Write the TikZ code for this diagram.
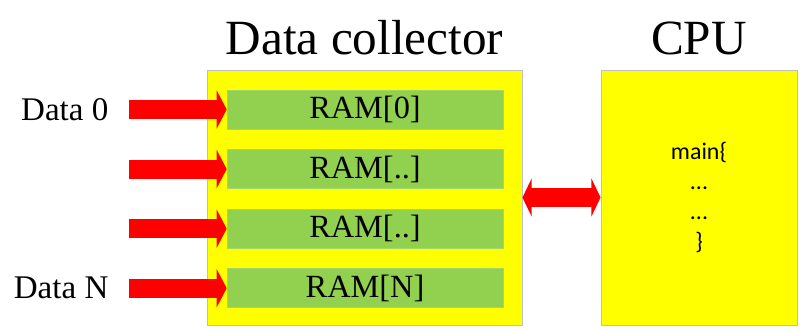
\documentclass[tikz,border=0pt]{standalone}
\usepackage{fontspec}
\setmainfont{Liberation Serif}
\newfontfamily\codefont{Carlito}
\usetikzlibrary{arrows.meta,positioning}
\definecolor{boxyellow}{HTML}{FFFF00}
\definecolor{ramgreen}{HTML}{92D050}
\definecolor{boxgray}{HTML}{BFBFBF}

\begin{document}
\begin{tikzpicture}[
    x=0.025cm, y=-0.025cm,
    node distance=0.5cm,
    unit/.style={rectangle, draw=boxgray, fill=boxyellow, line width=0.6pt, minimum height=6.375cm},
    ram/.style={rectangle, draw=ramgreen!85!white, fill=ramgreen, minimum width=6.9cm, minimum height=0.975cm, inner sep=0pt, font=\fontsize{23}{28}\selectfont},
    title/.style={inner sep=0pt, font=\fontsize{35}{42}\selectfont},
    datalabel/.style={inner sep=0pt, font=\fontsize{23.5}{28}\selectfont},
    arrow/.style={-{Triangle[length=0.25cm, width=0.95cm]}, red, line width=0.475cm},
    dblarrow/.style={{Triangle[length=0.23cm, width=0.95cm]}-{Triangle[length=0.23cm, width=0.95cm]}, red, line width=0.475cm}
]
    \useasboundingbox (0,0) rectangle (800,329);

    % the two units
    \node[unit, minimum width=7.875cm] (collector) at (364.5,197.5) {};
    \node[unit, minimum width=4.9cm] (cpu) at (699,197.5) {};
    \node[title, above=0.35cm of collector] (collectortitle) {Data collector};
    \node[title, above=0.35cm of cpu] (cputitle) {CPU};

    % memory rows
    \node[ram] (ram0) at (365,109.5) {RAM[0]};
    \node[ram, below=of ram0] (ram1) {RAM[..]};
    \node[ram, below=of ram1] (ram2) {RAM[..]};
    \node[ram, below=of ram2] (ramN) {RAM[N]};

    % program
    \node[inner sep=0pt, align=center, font=\codefont\fontsize{17}{21.3}\selectfont] (code) at (cpu) {main\{\\...\\...\\\}};

    % inputs
    \coordinate[left=2.45cm of ram0.west] (in0);
    \coordinate[left=2.45cm of ram1.west] (in1);
    \coordinate[left=2.45cm of ram2.west] (in2);
    \coordinate[left=2.45cm of ramN.west] (inN);
    \node[datalabel, left=0.5cm of in0] (data0) {Data 0};
    \node[datalabel, left=0.5cm of inN] (dataN) {Data N};

    \draw[arrow] (in0) -- (ram0.west);
    \draw[arrow] (in1) -- (ram1.west);
    \draw[arrow] (in2) -- (ram2.west);
    \draw[arrow] (inN) -- (ramN.west);
    \draw[dblarrow] (collector.east) -- (cpu.west);
\end{tikzpicture}
\end{document}
